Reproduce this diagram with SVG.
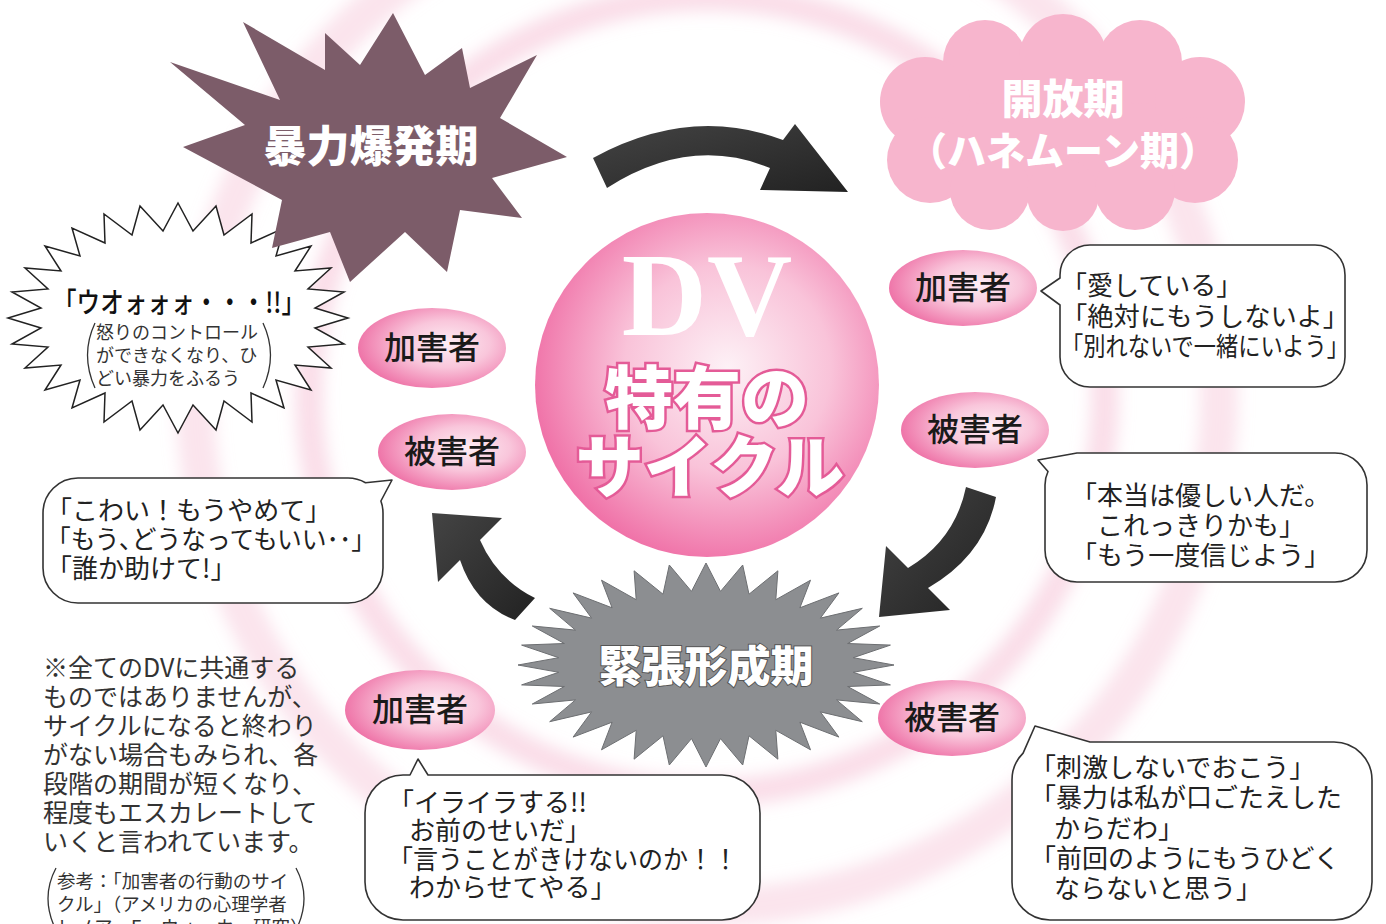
<svg xmlns="http://www.w3.org/2000/svg" width="1386" height="924" viewBox="0 0 1386 924">
<defs>
  <radialGradient id="gCenter" cx="0.56" cy="0.45" r="0.6">
    <stop offset="0" stop-color="#fdf1f6"/>
    <stop offset="0.5" stop-color="#f9c3d9"/>
    <stop offset="1" stop-color="#ef6aa3"/>
  </radialGradient>
  <radialGradient id="gPill" cx="0.6" cy="0.45" r="0.65">
    <stop offset="0" stop-color="#fdeef4"/>
    <stop offset="0.45" stop-color="#f9c6db"/>
    <stop offset="1" stop-color="#ed69a1"/>
  </radialGradient>
  <linearGradient id="gArrow" x1="0" y1="0" x2="1" y2="1">
    <stop offset="0" stop-color="#444"/>
    <stop offset="1" stop-color="#222"/>
  </linearGradient>
  <filter id="soft" x="-20%" y="-20%" width="140%" height="140%"><feGaussianBlur stdDeviation="8"/></filter>
  <style>
    .jp{font-family:"Noto Sans CJK JP","Noto Sans CJK SC",sans-serif;}
    .say{font-size:26px;fill:#222;}
    .pill{fill:url(#gPill);}
    .pilltext{font-size:32px;font-weight:500;fill:#1a1a1a;text-anchor:middle;}
    .bubble{fill:#fff;stroke:#333;stroke-width:1.6;stroke-linejoin:round;}
    .title{font-weight:900;fill:#fff;text-anchor:middle;}
    .arrow{fill:url(#gArrow);}
    .paren{fill:none;stroke:#333;stroke-width:1.3;}
    .note{font-size:25px;fill:#333;}
    .ref{font-size:18.5px;fill:#333;}
  </style>
</defs>
<rect width="1386" height="924" fill="#fff"/>

<g id="background" filter="url(#soft)">
  <circle cx="707" cy="395" r="398" fill="none" stroke="#f6c3d7" stroke-width="28" opacity="0.55"/>
  <circle cx="707" cy="395" r="512" fill="none" stroke="#f6c3d7" stroke-width="38" opacity="0.45"/>
</g>

<g id="burst-shout">
  <polygon fill="#fff" stroke="#222" stroke-width="1.5" stroke-linejoin="miter" points="348,318 315,328 344,344 308,347 331,368 295,365 311,390 276,380 284,408 251,393 252,422 224,401 216,430 193,405 178,433 163,405 140,430 132,401 104,422 105,393 72,408 80,380 45,390 61,365 25,368 48,347 12,344 41,328 8,318 41,308 12,292 48,289 25,268 61,271 45,246 80,256 72,228 105,243 104,214 132,235 140,206 163,231 178,203 193,231 216,206 224,235 252,214 251,243 284,228 276,256 311,246 295,271 331,268 308,289 344,292 315,308"/>
  <text class="jp" x="53" y="313" font-size="28" font-weight="500" fill="#111" textLength="252" lengthAdjust="spacingAndGlyphs">「ウオォォォ・・・!!」</text>
  <path class="paren" d="M95,323 Q80,355 95,388"/>
  <path class="paren" d="M263,323 Q278,355 263,388"/>
  <text class="jp" font-size="18" fill="#333"><tspan x="96" y="339">怒りのコントロール</tspan><tspan x="96" y="362">ができなくなり、ひ</tspan><tspan x="96" y="385">どい暴力をふるう</tspan></text>
</g>

<g id="phase-violence">
  <polygon fill="#7c5c69" points="170,62 280,100 243,22 325,70 325,33 360,65 393,13 425,75 462,48 470,88 537,55 500,118 567,157 492,178 522,218 460,210 447,272 405,232 350,282 330,232 272,248 282,200 183,147 245,125"/>
  <text class="jp title" x="371" y="162" font-size="43">暴力爆発期</text>
</g>

<g id="phase-honeymoon">
  <g fill="#f7b5cd">
    <ellipse cx="1063" cy="125" rx="140" ry="80"/>
    <circle cx="985" cy="62" r="42"/>
    <circle cx="1063" cy="58" r="44"/>
    <circle cx="1140" cy="62" r="42"/>
    <circle cx="925" cy="102" r="45"/>
    <circle cx="930" cy="160" r="43"/>
    <circle cx="1200" cy="102" r="45"/>
    <circle cx="1195" cy="160" r="43"/>
    <circle cx="990" cy="190" r="40"/>
    <circle cx="1063" cy="195" r="36"/>
    <circle cx="1135" cy="190" r="40"/>
  </g>
  <text class="jp title" x="1063" y="114" font-size="41">開放期</text>
  <text class="jp title" x="1063" y="165" font-size="39">（ハネムーン期）</text>
</g>

<g id="phase-tension">
  <polygon fill="#8c8e91" stroke="#6d6f72" stroke-width="1" points="894,665 853.3,672.3 890.4,684.9 847.6,686.5 879.7,704 836.5,699.9 862.3,721.7 820.4,711.9 838.9,737.1 799.9,722.2 810.5,749.8 775.8,730.3 777.9,759.2 749,735.8 742.7,765 720.5,738.6 706,767 691.5,738.6 669.3,765 663,735.8 634.1,759.2 636.2,730.3 601.5,749.8 612.1,722.2 573.1,737.1 591.6,711.9 549.7,721.7 575.5,699.9 532.3,704 564.4,686.5 521.6,684.9 558.7,672.3 518,665 558.7,657.7 521.6,645.1 564.4,643.5 532.3,626 575.5,630.1 549.7,608.3 591.6,618.1 573.1,592.9 612.1,607.8 601.5,580.2 636.2,599.7 634.1,570.8 663,594.2 669.3,565 691.5,591.4 706,563 720.5,591.4 742.7,565 749,594.2 777.9,570.8 775.8,599.7 810.5,580.2 799.9,607.8 838.9,592.9 820.4,618.1 862.3,608.3 836.5,630.1 879.7,626 847.6,643.5 890.4,645.1 853.3,657.7"/>
  <text class="jp title" x="706" y="682" font-size="43" stroke="#555" stroke-width="2" paint-order="stroke">緊張形成期</text>
</g>

<g id="center">
  <circle cx="707" cy="385" r="172" fill="url(#gCenter)"/>
  <text x="707" y="335" font-family="'Liberation Serif',serif" font-weight="700" font-size="118" fill="#fff" text-anchor="middle">DV</text>
  <text class="jp title" x="707" y="423" font-size="68" stroke="#e45b97" stroke-width="5" paint-order="stroke">特有の</text>
  <text class="jp title" x="710" y="492" font-size="68" stroke="#e45b97" stroke-width="5" paint-order="stroke">サイクル</text>
</g>

<g id="connectors">
  <path class="arrow" d="M593,158 Q690,105 783,140 L795,124 L848,192 L760,190 L770,168 Q690,135 607,188 Z"/>
  <path class="arrow" d="M966,487 L996,497 Q985,555 928,588 L950,610 L879,617 L886,546 L908,568 Q955,540 966,487 Z"/>
  <path class="arrow" d="M535,598 L515,620 Q475,605 460,560 L438,582 L432,513 L502,518 L480,540 Q497,579 535,598 Z"/>
</g>

<g id="pill-abuser-left">
  <ellipse class="pill" cx="432" cy="348" rx="74" ry="40"/>
  <text class="jp pilltext" x="432" y="359">加害者</text>
</g>
<g id="pill-victim-left">
  <ellipse class="pill" cx="452" cy="452" rx="74" ry="38"/>
  <text class="jp pilltext" x="452" y="463">被害者</text>
</g>
<g id="pill-abuser-right">
  <ellipse class="pill" cx="963" cy="288" rx="74" ry="38"/>
  <text class="jp pilltext" x="963" y="299">加害者</text>
</g>
<g id="pill-victim-right">
  <ellipse class="pill" cx="975" cy="430" rx="74" ry="38"/>
  <text class="jp pilltext" x="975" y="441">被害者</text>
</g>
<g id="pill-abuser-bottom">
  <ellipse class="pill" cx="420" cy="710" rx="75" ry="40"/>
  <text class="jp pilltext" x="420" y="721">加害者</text>
</g>
<g id="pill-victim-bottom">
  <ellipse class="pill" cx="952" cy="718" rx="74" ry="38"/>
  <text class="jp pilltext" x="952" y="729">被害者</text>
</g>

<g id="bubble-honeymoon-abuser">
  <path class="bubble" d="M1090,245 H1315 A30,30 0 0 1 1345,275 V357 A30,30 0 0 1 1315,387 H1090 A30,30 0 0 1 1060,357 V305 L1041,291 L1060,278 V275 A30,30 0 0 1 1090,245 Z"/>
  <text class="jp say" x="1061" y="295">「愛している」</text>
  <text class="jp say" x="1061" y="326" textLength="288" lengthAdjust="spacingAndGlyphs">「絶対にもうしないよ」</text>
  <text class="jp say" x="1061" y="356" textLength="288" lengthAdjust="spacingAndGlyphs">「別れないで一緒にいよう」</text>
</g>

<g id="bubble-honeymoon-victim">
  <path class="bubble" d="M1077,453 H1335 A32,32 0 0 1 1367,485 V550 A32,32 0 0 1 1335,582 H1077 A32,32 0 0 1 1045,550 V485 A32,32 0 0 1 1048,471.5 L1038,460 Z"/>
  <text class="jp say"><tspan x="1071" y="505">「本当は優しい人だ。</tspan><tspan x="1097" y="535">これっきりかも」</tspan><tspan x="1071" y="565">「もう一度信じよう」</tspan></text>
</g>

<g id="bubble-tension-victim">
  <path class="bubble" d="M1090,742 H1334 A38,38 0 0 1 1372,780 V882 A38,38 0 0 1 1334,920 H1050 A38,38 0 0 1 1012,882 V780 A38,38 0 0 1 1023.1,753.1 L1035,726 Z"/>
  <text class="jp say" font-size="27"><tspan x="1030" y="777">「刺激しないでおこう」</tspan><tspan x="1030" y="807">「暴力は私が口ごたえした</tspan><tspan x="1054" y="838">からだわ」</tspan><tspan x="1030" y="868">「前回のようにもうひどく</tspan><tspan x="1054" y="898">ならないと思う」</tspan></text>
</g>

<g id="bubble-tension-abuser">
  <path class="bubble" d="M403,775 H410 L418,759 L428,775 H722 A38,38 0 0 1 760,813 V882 A38,38 0 0 1 722,920 H403 A38,38 0 0 1 365,882 V813 A38,38 0 0 1 403,775 Z"/>
  <text class="jp say" x="388" y="812">「イライラする!!</text>
  <text class="jp say" x="409" y="840">お前のせいだ」</text>
  <text class="jp say" x="388" y="869" textLength="350" lengthAdjust="spacingAndGlyphs">「言うことがきけないのか！！</text>
  <text class="jp say" x="409" y="897">わからせてやる」</text>
</g>

<g id="bubble-violence-victim">
  <path class="bubble" d="M78,478 H348 A35,35 0 0 1 365.5,482.7 L392,480 L380.9,501 A35,35 0 0 1 383,513 V568 A35,35 0 0 1 348,603 H78 A35,35 0 0 1 43,568 V513 A35,35 0 0 1 78,478 Z"/>
  <text class="jp say" font-size="28" x="46" y="520">「こわい！もうやめて」</text>
  <text class="jp say" font-size="28" x="46" y="549" textLength="330" lengthAdjust="spacingAndGlyphs">「もう､どうなってもいい･･」</text>
  <text class="jp say" font-size="28" x="46" y="578">「誰か助けて!」</text>
</g>

<g id="note">
  <text class="jp note"><tspan x="43" y="677">※全てのDVに共通する</tspan><tspan x="43" y="706">ものではありませんが、</tspan><tspan x="43" y="735">サイクルになると終わり</tspan><tspan x="43" y="764">がない場合もみられ、各</tspan><tspan x="43" y="793">段階の期間が短くなり、</tspan><tspan x="43" y="822">程度もエスカレートして</tspan><tspan x="43" y="851">いくと言われています。</tspan></text>
  <path class="paren" d="M56,868 Q40,898 56,930"/>
  <path class="paren" d="M296,868 Q312,898 296,930"/>
  <text class="jp ref"><tspan x="57" y="888">参考：「加害者の行動のサイ</tspan><tspan x="57" y="911">クル」（アメリカの心理学者</tspan><tspan x="57" y="934">レノア・E・ウォーカー研究）</tspan></text>
</g>
</svg>
